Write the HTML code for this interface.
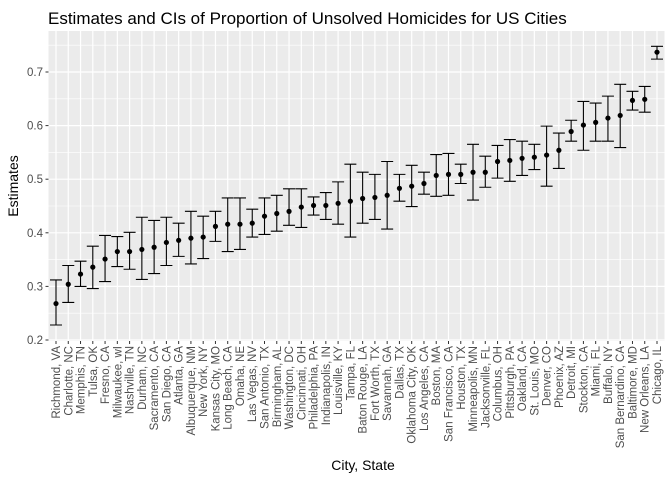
<!DOCTYPE html>
<html><head><meta charset="utf-8"><style>
body{margin:0;background:#fff;font-family:"Liberation Sans",Arial,sans-serif}
svg text{font-family:"Liberation Sans",Arial,sans-serif}
</style></head><body>
<svg id="chart" width="672" height="480">
<text x="48" y="24" font-size="17" fill="#000">Estimates and CIs of Proportion of Unsolved Homicides for US Cities</text>
<rect x="48.5" y="31" width="616" height="310" fill="#ebebeb"/>
<g id="grid"></g><g id="marks"></g><g id="axes"></g>
<text x="363" y="470" font-size="14" text-anchor="middle" fill="#000">City, State</text>
<text transform="translate(18,186) rotate(-90)" font-size="14" text-anchor="middle" fill="#000">Estimates</text>
</svg>
<script>
const cities=["Richmond, VA","Charlotte, NC","Memphis, TN","Tulsa, OK","Fresno, CA","Milwaukee, wI","Nashville, TN","Durham, NC","Sacramento, CA","San Diego, CA","Atlanta, GA","Albuquerque, NM","New York, NY","Kansas City, MO","Long Beach, CA","Omaha, NE","Las Vegas, NV","San Antonio, TX","Birmingham, AL","Washington, DC","Cincinnati, OH","Philadelphia, PA","Indianapolis, IN","Louisville, KY","Tampa, FL","Baton Rouge, LA","Fort Worth, TX","Savannah, GA","Dallas, TX","Oklahoma City, OK","Los Angeles, CA","Boston, MA","San Francisco, CA","Houston, TX","Minneapolis, MN","Jacksonville, FL","Columbus, OH","Pittsburgh, PA","Oakland, CA","St. Louis, MO","Denver, CO","Phoenix, AZ","Detroit, MI","Stockton, CA","Miami, FL","Buffalo, NY","San Bernardino, CA","Baltimore, MD","New Orleans, LA","Chicago, IL"];
const estimates=[0.268,0.304,0.323,0.336,0.351,0.365,0.365,0.369,0.373,0.382,0.386,0.390,0.392,0.412,0.416,0.416,0.418,0.431,0.436,0.440,0.448,0.451,0.451,0.455,0.459,0.464,0.466,0.470,0.483,0.487,0.492,0.507,0.509,0.509,0.513,0.513,0.533,0.535,0.539,0.541,0.545,0.554,0.589,0.601,0.606,0.614,0.619,0.647,0.649,0.737];
const lower=[0.228,0.270,0.300,0.296,0.309,0.337,0.332,0.313,0.324,0.339,0.356,0.342,0.352,0.384,0.365,0.369,0.392,0.397,0.403,0.414,0.410,0.433,0.425,0.416,0.392,0.418,0.425,0.407,0.459,0.449,0.472,0.468,0.470,0.492,0.461,0.485,0.502,0.496,0.507,0.518,0.487,0.520,0.571,0.554,0.571,0.571,0.559,0.629,0.625,0.724];
const upper=[0.312,0.339,0.347,0.375,0.395,0.393,0.401,0.429,0.423,0.429,0.418,0.440,0.431,0.440,0.465,0.465,0.444,0.465,0.470,0.482,0.482,0.467,0.475,0.495,0.528,0.513,0.509,0.533,0.509,0.526,0.513,0.546,0.548,0.528,0.565,0.543,0.563,0.574,0.571,0.565,0.599,0.586,0.610,0.645,0.642,0.655,0.677,0.664,0.673,0.748];
const yTicks=[0.2,0.3,0.4,0.5,0.6,0.7];
const NS="http://www.w3.org/2000/svg";
const X=i=>56+i*(657-56)/(cities.length-1);
const Y=v=>340-(v-0.2)*536;
function mk(p,t,a){const e=document.createElementNS(NS,t);for(const k in a)e.setAttribute(k,a[k]);p.appendChild(e);return e;}
const G=document.getElementById('grid'),M=document.getElementById('marks'),A=document.getElementById('axes');
yTicks.forEach(v=>{
 const m=mk(G,'line',{x1:48.5,x2:664.5,y1:Y(v+0.05),y2:Y(v+0.05),stroke:'#fff','stroke-width':0.6});
 
 
 const l=mk(G,'line',{x1:48.5,x2:664.5,y1:Y(v),y2:Y(v),stroke:'#fff','stroke-width':1.2});
 
 
 const tk=mk(A,'line',{x1:45.5,x2:48.5,y1:Y(v),y2:Y(v),stroke:'#333','stroke-width':1});
 
 
 const t=mk(A,'text',{x:43,y:Y(v)+4,'font-size':11.5,'text-anchor':'end',fill:'#4d4d4d'});
 t.textContent=v.toFixed(1);
 
 
});
cities.forEach((c,i)=>{
 const x=X(i);
 const g=mk(G,'line',{x1:x,x2:x,y1:31,y2:341,stroke:'#fff','stroke-width':1.2});
 
 
 const eb=mk(M,'path',{d:`M${x-6},${Y(upper[i])}H${x+6}M${x},${Y(upper[i])}V${Y(lower[i])}M${x-6},${Y(lower[i])}H${x+6}`,stroke:'#000','stroke-width':1.1,fill:'none'});
 
 
 const p=mk(M,'circle',{cx:x,cy:Y(estimates[i]),r:2.6,fill:'#000'});
 
 
 const tk=mk(A,'line',{x1:x,x2:x,y1:341,y2:344,stroke:'#333','stroke-width':1});
 
 
 const t=mk(A,'text',{transform:`translate(${x+4},346) rotate(-90)`,'font-size':11.5,'text-anchor':'end',fill:'#4d4d4d'});
 t.textContent=c;
 
 
});
</script>
</body></html>
